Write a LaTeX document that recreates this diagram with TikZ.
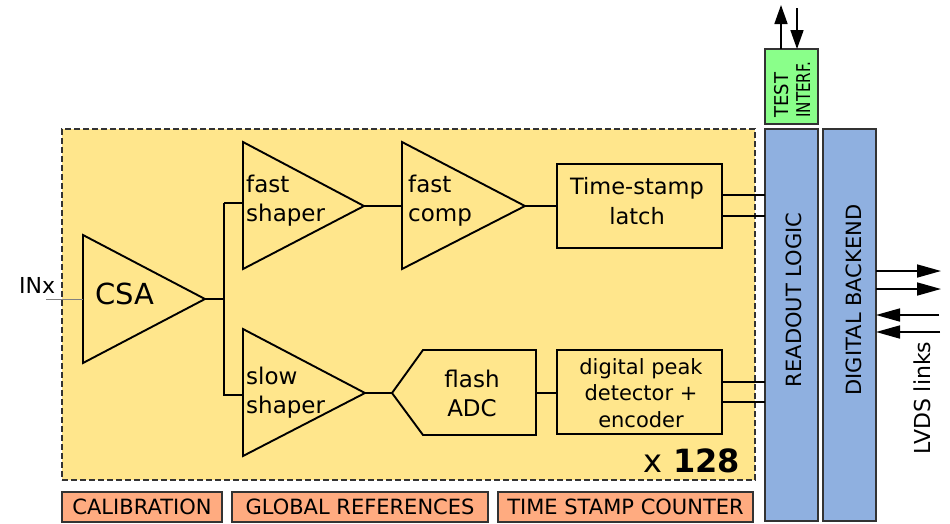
\documentclass[tikz,border=0pt]{standalone}
\usepackage{fontspec}
\setmainfont{DejaVu Sans}
\usetikzlibrary{arrows.meta}
\definecolor{chanfill}{HTML}{FFE68C}
\definecolor{logicfill}{HTML}{8FB0E0}
\definecolor{testfill}{HTML}{8AFF8A}
\definecolor{globfill}{HTML}{FFAB80}
\definecolor{edge}{HTML}{333333}
\newcommand{\fs}[2]{\fontsize{#1}{#2}\selectfont}
\tikzset{
  wire/.style={line width=1.9pt},
  amp/.style={line width=1.9pt, line join=miter},
  block/.style={draw, line width=1.9pt, inner sep=0pt, outer sep=0pt},
  logicbox/.style={draw=edge, fill=logicfill, line width=1.8pt, inner sep=0pt, outer sep=0pt},
  globbox/.style={draw=edge, fill=globfill, line width=1.6pt, inner sep=0pt, outer sep=0pt,
    minimum height=30pt, font=\fs{21}{25}},
  sig/.style={line width=1.7pt, -{Triangle[length=24pt,width=13pt]}},
  ampl/.style={anchor=base west, align=left, inner sep=0pt, font=\fs{23}{29}},
  vlabel/.style={rotate=90, inner sep=0pt},
}
\begin{document}
\begin{tikzpicture}[x=1pt,y=-1pt]
\useasboundingbox (0,0) rectangle (950,523);

% channel area, repeated 128 times
\node[draw=edge, fill=chanfill, line width=1.3pt, dash pattern=on 6pt off 3pt,
      minimum width=693pt, minimum height=351pt, inner sep=0pt] (chan) at (408.5,304.5) {};

% readout, backend and test interface columns
\node[logicbox, minimum width=53pt, minimum height=392pt] (readout) at (791.5,325) {};
\node[logicbox, minimum width=53pt, minimum height=392pt] (backend) at (849.5,325) {};
\node[draw=edge, fill=testfill, line width=1.8pt, inner sep=0pt, outer sep=0pt,
      minimum width=53pt, minimum height=75pt] (test) at (791.5,86.5) {};

\node[vlabel, anchor=base, font=\fs{21}{25}] (readoutlbl) at (801,300) {READOUT LOGIC};
\node[vlabel, anchor=base, font=\fs{21}{25}] (backendlbl) at (861,300) {DIGITAL BACKEND};
\node[vlabel, anchor=base west, font=\fs{19}{22}] (testlbl) at (788,118) {\scalebox{0.95}[1]{TEST}};
\node[vlabel, anchor=base west, font=\fs{19}{22}] (interflbl) at (810,118) {\scalebox{0.8}[1]{INTERF.}};

% amplifier triangles
\draw[amp] (83,235) -- (83,363) -- (205,299) -- cycle;
\coordinate (csain) at (83,299);
\coordinate (csaout) at (205,299);
\draw[amp] (243,142) -- (243,269) -- (364,206) -- cycle;
\coordinate (fshin) at (243,203);
\coordinate (fshout) at (364,206);
\draw[amp] (402,142) -- (402,269) -- (525,206) -- cycle;
\coordinate (fcin) at (402,206);
\coordinate (fcout) at (525,206);
\draw[amp] (243,329) -- (243,456) -- (365,393) -- cycle;
\coordinate (sshin) at (243,395);
\coordinate (sshout) at (365,393);

% flash ADC outline
\draw[amp] (392,393) -- (423,350) -- (536,350) -- (536,435) -- (423,435) -- cycle;
\coordinate (adcin) at (392,393);
\coordinate (adcout) at (536,393);

% digital blocks
\node[block, minimum width=165pt, minimum height=84pt] (latch) at (639.5,206) {};
\node[block, minimum width=165pt, minimum height=84pt] (peak) at (639.5,392) {};

% labels (multi-line labels are placed by the baseline of their last line)
\node[anchor=base west, inner sep=0pt, font=\fs{22}{26}] (inx) at (19,293) {INx};
\node[anchor=base west, inner sep=0pt, font=\fs{29}{34}] (csa) at (95,304) {CSA};
\node[ampl] (fshl) at (246,221) {fast\\shaper};
\node[ampl] (fcl) at (408,221) {fast\\comp};
\node[ampl] (sshl) at (246,413) {slow\\shaper};
\node[anchor=base, align=center, inner sep=0pt, font=\fs{23}{29}] (adcl) at (472,416) {flash\\ADC};
\node[anchor=base, align=center, inner sep=0pt, font=\fs{22.5}{30}] (latchl) at (637,224) {Time-stamp\\latch};
\node[anchor=base, align=center, inner sep=0pt, font=\fs{21}{26.5}] (peakl) at (641,427) {digital peak\\detector +\\encoder};
\node[anchor=base east, inner sep=0pt, font=\fs{32}{36}] (mult) at (740,472) {x \textbf{128}};

% connections
\coordinate (inxend) at (46,299);
\draw[line width=1pt, draw=gray] (inxend) -- (csain);
\coordinate (split) at (224,299);
\draw[wire] (csaout) -- (split);
\draw[wire] (split |- fshin) -- (fshin);
\draw[wire] (split |- fshin) -- (split |- sshin) -- (sshin);
\draw[wire] (fshout) -- (fcin);
\draw[wire] (fcout) -- (latch.west |- fcout);
\draw[wire] (latch.east |- 0,195) -- (readout.west |- 0,195);
\draw[wire] (latch.east |- 0,216) -- (readout.west |- 0,216);
\draw[wire] (sshout) -- (adcin);
\draw[wire] (adcout) -- (peak.west |- adcout);
\draw[wire] (peak.east |- 0,382) -- (readout.west |- 0,382);
\draw[wire] (peak.east |- 0,402) -- (readout.west |- 0,402);

% test interface port
\coordinate (testup) at (781,5);
\coordinate (testdn) at (797,8);
\draw[sig, -{Triangle[length=19pt,width=13pt]}] (test.north -| testup) -- (testup);
\draw[sig, -{Triangle[length=19pt,width=13pt]}] (testdn) -- (test.north -| testdn);

% LVDS links
\coordinate (lvo1) at (941,271);
\coordinate (lvo2) at (941,289);
\coordinate (lvi1) at (939,315);
\coordinate (lvi2) at (940,332);
\draw[sig] (backend.east |- lvo1) -- (lvo1);
\draw[sig] (backend.east |- lvo2) -- (lvo2);
\draw[sig] (lvi1) -- (backend.east |- lvi1);
\draw[sig] (lvi2) -- (backend.east |- lvi2);
\node[vlabel, anchor=base west, font=\fs{22}{26}] (lvdsl) at (930,455) {LVDS links};

% global blocks
\node[globbox, minimum width=160pt] (calib) at (142,507) {CALIBRATION};
\node[globbox, minimum width=256pt] (globref) at (360,507) {GLOBAL REFERENCES};
\node[globbox, minimum width=255pt] (tscount) at (625.5,507) {TIME STAMP COUNTER};
\end{tikzpicture}
\end{document}
